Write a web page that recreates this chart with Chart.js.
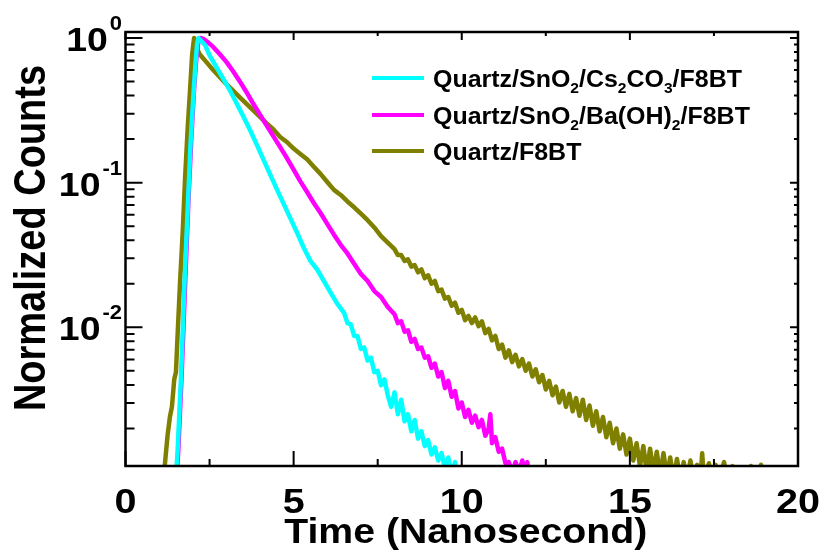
<!DOCTYPE html>
<html>
<head>
<meta charset="utf-8">
<script src="https://cdn.jsdelivr.net/npm/chart.js@4.4.1/dist/chart.umd.min.js"></script>
<style>
  html, body { margin: 0; padding: 0; background: #ffffff; }
  #wrap { width: 825px; height: 557px; }
</style>
</head>
<body>
<div id="wrap"><canvas id="c" width="825" height="557"></canvas></div>
<script>
// ---------------- data ----------------
const timeCs = [1.50,1.55,1.65,1.75,1.85,1.93,2.01,2.08,2.13,2.17,2.25,2.37,2.5,2.7,2.9,3.1,3.3,3.5,3.7,3.9,4.1,4.3,4.5,4.7,4.9,5.1,5.3,5.5,5.7,5.9,6.1,6.3,
  6.5,6.6,6.7,6.8,6.9,7.0,7.1,7.2,7.3,7.4,7.5,7.6,7.7,7.8,7.9,8.0,8.1,8.2,8.3,8.4,8.5,8.6,8.7,8.8,8.9,9.0,9.1,9.2,9.3,9.4,9.5,9.6,9.7,9.8,9.9];
const countsCs = [0.00089,0.00141,0.00447,0.0191,0.0661,0.178,0.372,0.661,0.912,1.00,0.955,0.891,0.759,0.631,0.525,0.437,0.355,0.288,0.232,0.184,0.145,0.114,0.0902,0.0716,0.0569,0.0452,0.0355,0.0288,0.0251,0.0209,0.0174,0.0145,
  0.0126,0.0107,0.0105,0.00871,0.00871,0.00708,0.00724,0.00589,0.00617,0.00490,0.00501,0.00398,0.00437,0.00339,0.00282,0.00355,0.00251,0.00316,0.00224,0.00251,0.00191,0.00229,0.00170,0.00191,0.00151,0.00166,0.00132,0.00148,0.00120,0.00135,0.00107,0.00126,0.00095,0.00117,0.00089];

const timeBa = [1.52,1.57,1.67,1.77,1.87,1.96,2.04,2.11,2.17,2.22,2.3,2.4,2.6,2.8,3.0,3.2,3.4,3.6,3.8,4.0,4.2,4.4,4.6,4.8,5.0,5.2,5.4,5.6,5.8,6.0,6.2,6.4,6.6,6.8,7.0,7.2,7.4,7.6,7.8,
  8.0,8.1,8.2,8.3,8.4,8.5,8.6,8.7,8.8,8.9,9.0,9.1,9.2,9.3,9.4,9.5,9.6,9.7,9.8,9.9,10.0,10.1,10.2,10.3,10.4,10.5,10.6,10.7,10.8,10.85,10.9,11.0,11.1,11.2,11.3,11.4,11.5,11.6,11.7,11.8,11.9,11.95,12.0];
const countsBa = [0.00089,0.00141,0.00468,0.0191,0.0741,0.209,0.447,0.741,0.955,1.00,0.989,0.955,0.871,0.776,0.684,0.589,0.501,0.422,0.351,0.295,0.248,0.209,0.176,0.148,0.123,0.102,0.0861,0.0724,0.0617,0.0519,0.0437,0.0372,0.0324,0.0275,0.0234,0.0209,0.0178,0.0162,0.0138,
  0.0123,0.0107,0.0110,0.00933,0.00955,0.00794,0.00832,0.00708,0.00724,0.00617,0.00631,0.00525,0.00562,0.00457,0.00490,0.00380,0.00427,0.00331,0.00363,0.00275,0.00302,0.00240,0.00269,0.00219,0.00245,0.00204,0.00229,0.00178,0.00200,0.00251,0.00158,0.00174,0.00138,0.00145,0.00115,0.00117,0.00100,0.00117,0.00100,0.00120,0.00100,0.00117,0.00089];

const timeF8 = [1.15,1.25,1.32,1.38,1.45,1.50,1.55,1.62,1.70,1.77,1.85,1.92,1.98,2.04,2.08,2.14,2.2,2.4,2.6,2.8,3.0,3.2,3.4,3.6,3.8,4.0,4.2,4.4,4.6,4.8,5.0,5.2,5.4,5.6,5.8,6.0,6.2,6.4,6.6,6.8,7.0,7.2,7.4,7.6,7.8,
  8.0,8.1,8.2,8.3,8.4,8.5,8.6,8.7,8.8,8.9,9.0,9.1,9.2,9.3,9.4,9.5,9.6,9.7,9.8,9.9,
  10.0,10.1,10.2,10.3,10.4,10.5,10.6,10.7,10.8,10.9,11.0,11.1,11.2,11.3,11.4,11.5,11.6,11.7,11.8,11.9,
  12.0,12.1,12.2,12.3,12.4,12.5,12.6,12.7,12.8,12.9,13.0,13.1,13.2,13.3,13.4,13.5,13.6,13.7,13.8,13.9,
  14.0,14.1,14.2,14.3,14.4,14.5,14.6,14.7,14.8,14.9,15.0,15.1,15.2,15.3,15.4,15.5,15.6,15.7,15.8,15.9,
  16.0,16.1,16.2,16.3,16.4,16.5,16.6,16.7,16.8,16.9,17.0,17.1,17.15,17.2,17.35,17.45,17.55,17.65,17.8,17.9,18.05,18.15,18.5,18.6,18.7,18.9,19.0];
const countsF8 = [0.00100,0.00178,0.00240,0.00282,0.00437,0.00490,0.00891,0.0200,0.0447,0.105,0.240,0.437,0.759,1.00,0.955,0.832,0.776,0.684,0.603,0.537,0.479,0.432,0.389,0.351,0.316,0.285,0.257,0.233,0.207,0.191,0.172,0.158,0.145,0.129,0.115,0.101,0.0891,0.0822,0.0741,0.0676,0.0610,0.0550,0.0490,0.0427,0.0385,
  0.0347,0.0316,0.0316,0.0288,0.0295,0.0263,0.0269,0.0240,0.0251,0.0219,0.0229,0.0200,0.0209,0.0178,0.0182,0.0158,0.0162,0.0141,0.0148,0.0126,
  0.0132,0.0112,0.0120,0.0107,0.0117,0.0102,0.0110,0.00912,0.00977,0.00813,0.00871,0.00708,0.00759,0.00617,0.00692,0.00575,0.00646,0.00537,0.00603,0.00501,
  0.00562,0.00457,0.00513,0.00417,0.00468,0.00372,0.00427,0.00339,0.00389,0.00302,0.00363,0.00282,0.00347,0.00263,0.00324,0.00245,0.00316,0.00229,0.00288,0.00209,
  0.00263,0.00191,0.00240,0.00174,0.00219,0.00158,0.00200,0.00145,0.00182,0.00132,0.00170,0.00120,0.00158,0.00110,0.00151,0.00100,0.00145,0.00100,0.00138,0.00095,
  0.00135,0.00093,0.00126,0.00089,0.00123,0.00089,0.00117,0.00089,0.00120,0.00089,0.00112,0.00089,0.00135,0.00089,0.00115,0.00089,0.00112,0.00089,0.00117,0.00089,0.00110,0.00089,0.00089,0.00110,0.00089,0.00112,0.00089];

const seriesNames = ['Quartz/SnO\u2082/Cs\u2082CO\u2083/F8BT', 'Quartz/SnO\u2082/Ba(OH)\u2082/F8BT', 'Quartz/F8BT'];
const seriesColors = ['#00FFFF', '#FF00FF', '#808000'];
// legend text pieces: [text, isSubscript]
const legendParts = [
  [['Quartz/SnO',0],['2',1],['/Cs',0],['2',1],['CO',0],['3',1],['/F8BT',0]],
  [['Quartz/SnO',0],['2',1],['/Ba(OH)',0],['2',1],['/F8BT',0]],
  [['Quartz/F8BT',0]]
];

const xMajorTicks = [0, 5, 10, 15, 20];
const xMinorTicks = [2.5, 7.5, 12.5, 17.5];
const yMajorTicks = [1, 0.1, 0.01];
const yTickBase = ['10', '10', '10'];
const yTickExp = ['0', '-1', '-2'];
const yMinorTicks = [0.002,0.003,0.004,0.005,0.006,0.007,0.008,0.009,0.02,0.03,0.04,0.05,0.06,0.07,0.08,0.09,0.2,0.3,0.4,0.5,0.6,0.7,0.8,0.9];
const xTitle = 'Time (Nanosecond)';
const yTitle = 'Normalized Counts';

function pts(t, v) { return t.map((x, i) => ({ x: x, y: v[i] })); }

const FONT = '"Liberation Sans", Arial, Helvetica, sans-serif';

function sText(ctx, txt, x, y, sx, align, size) {
  ctx.save();
  ctx.font = 'bold ' + size + 'px ' + FONT;
  ctx.translate(x, y);
  ctx.scale(sx, 1);
  ctx.textAlign = align;
  ctx.textBaseline = 'alphabetic';
  ctx.fillText(txt, 0, 0);
  ctx.restore();
}

const framePlugin = {
  id: 'framePlugin',
  afterDraw(chart) {
    const ctx = chart.ctx;
    const a = chart.chartArea;
    const xs = chart.scales.x, ys = chart.scales.y;
    ctx.save();
    ctx.strokeStyle = '#000';
    ctx.fillStyle = '#000';
    ctx.lineWidth = 2.5;
    ctx.strokeRect(a.left, a.top, a.right - a.left, a.bottom - a.top);
    ctx.lineWidth = 2;
    ctx.beginPath();
    xMajorTicks.forEach(v => {
      const px = xs.getPixelForValue(v);
      ctx.moveTo(px, a.bottom); ctx.lineTo(px, a.bottom - 15);
      ctx.moveTo(px, a.top); ctx.lineTo(px, a.top + 8);
    });
    xMinorTicks.forEach(v => {
      const px = xs.getPixelForValue(v);
      ctx.moveTo(px, a.bottom); ctx.lineTo(px, a.bottom - 7);
      ctx.moveTo(px, a.top); ctx.lineTo(px, a.top + 4);
    });
    yMajorTicks.forEach(v => {
      const py = ys.getPixelForValue(v);
      ctx.moveTo(a.left, py); ctx.lineTo(a.left + 17, py);
      ctx.moveTo(a.right, py); ctx.lineTo(a.right - 8, py);
    });
    yMinorTicks.forEach(v => {
      const py = ys.getPixelForValue(v);
      ctx.moveTo(a.left, py); ctx.lineTo(a.left + 9, py);
      ctx.moveTo(a.right, py); ctx.lineTo(a.right - 4, py);
    });
    ctx.stroke();

    xMajorTicks.forEach(v => {
      const px = xs.getPixelForValue(v);
      sText(ctx, String(v), px, 513, 1.13, 'center', 35);
    });
    yMajorTicks.forEach((v, i) => {
      const py = ys.getPixelForValue(v);
      ctx.font = 'bold 20px ' + FONT;
      const we = ctx.measureText(yTickExp[i]).width * 1.1;
      const right = 122;
      const base = py + 13;
      sText(ctx, yTickExp[i], right - we, base - 21, 1.1, 'left', 20);
      sText(ctx, yTickBase[i], right - we - 2, base, 1.1, 'right', 34);
    });
    sText(ctx, xTitle, (a.left + a.right) / 2 + 4, 543, 1.12, 'center', 35);
    ctx.save();
    ctx.translate(45, 238);
    ctx.rotate(-Math.PI / 2);
    ctx.scale(1, 1.15);
    ctx.font = 'bold 38px ' + FONT;
    ctx.textAlign = 'center';
    ctx.textBaseline = 'alphabetic';
    ctx.fillText(yTitle, 0, 0);
    ctx.restore();

    const lineY = [78, 115, 151];
    legendParts.forEach((parts, i) => {
      const y = lineY[i];
      ctx.strokeStyle = seriesColors[i];
      ctx.lineWidth = 4;
      ctx.beginPath();
      ctx.moveTo(372, y); ctx.lineTo(424, y);
      ctx.stroke();
      let x = 433;
      ctx.fillStyle = '#000';
      parts.forEach(p => {
        const size = p[1] ? 15 : 24;
        const yy = p[1] ? y + 15 : y + 8.5;
        ctx.font = 'bold ' + size + 'px ' + FONT;
        const w = ctx.measureText(p[0]).width * 1.04;
        sText(ctx, p[0], x, yy, 1.04, 'left', size);
        x += w;
      });
    });
    ctx.restore();
  }
};

new Chart(document.getElementById('c'), {
  type: 'line',
  data: {
    datasets: [
      { label: seriesNames[0], data: pts(timeCs, countsCs), borderColor: seriesColors[0], backgroundColor: seriesColors[0], clip: 0 },
      { label: seriesNames[1], data: pts(timeBa, countsBa), borderColor: seriesColors[1], backgroundColor: seriesColors[1], clip: 0 },
      { label: seriesNames[2], data: pts(timeF8, countsF8), borderColor: seriesColors[2], backgroundColor: seriesColors[2], clip: 0 }
    ]
  },
  options: {
    responsive: false,
    animation: false,
    devicePixelRatio: 1,
    layout: { padding: { top: 32, right: 27, left: 0, bottom: 0 } },
    plugins: { legend: { display: false }, tooltip: { enabled: false } },
    elements: {
      point: { radius: 0 },
      line: { borderWidth: 4.5, tension: 0, borderJoinStyle: 'round', borderCapStyle: 'round' }
    },
    scales: {
      x: {
        type: 'linear', min: 0, max: 20,
        grid: { display: false }, border: { display: false },
        ticks: { display: false },
        afterFit(s) { s.height = 91; }
      },
      y: {
        type: 'logarithmic', min: 0.0011, max: 1.1,
        grid: { display: false }, border: { display: false },
        ticks: { display: false },
        afterFit(s) { s.width = 125.5; }
      }
    }
  },
  plugins: [framePlugin]
});
</script>
</body>
</html>
